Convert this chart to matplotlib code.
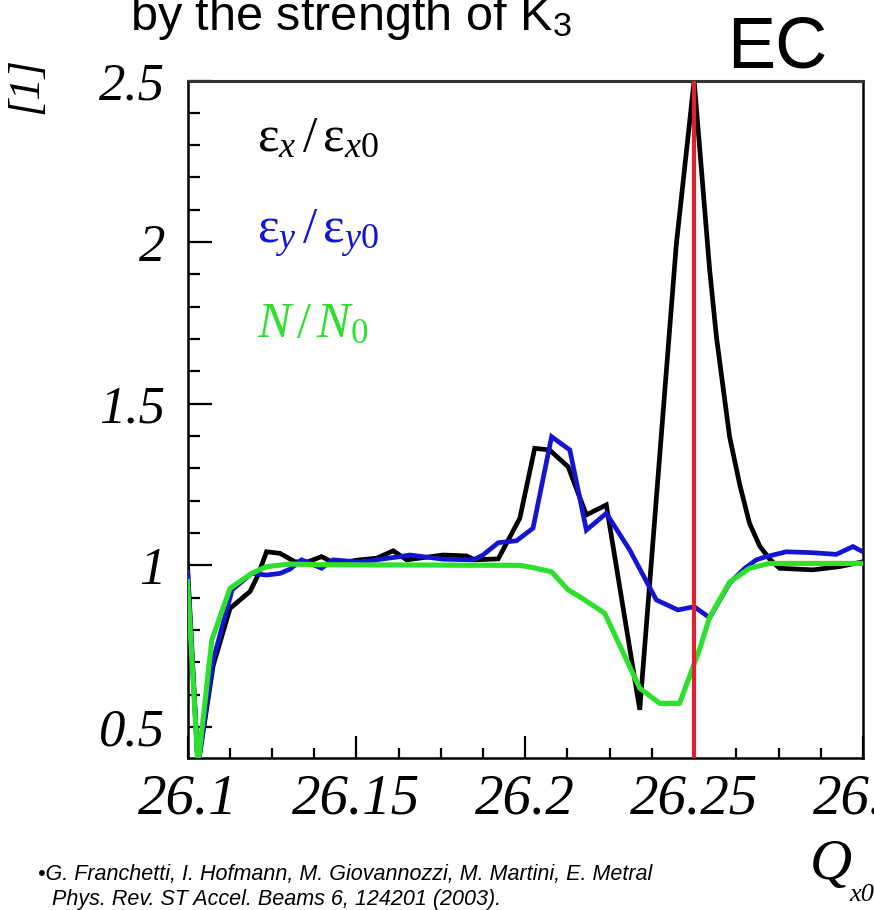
import matplotlib
matplotlib.use("Agg")
import matplotlib.pyplot as plt
from matplotlib.ticker import MultipleLocator, FixedLocator

plt.rcParams['mathtext.fontset'] = 'custom'
plt.rcParams['mathtext.rm'] = 'Liberation Serif'
plt.rcParams['mathtext.it'] = 'Liberation Serif:italic'
plt.rcParams['mathtext.sf'] = 'Liberation Sans'

# ---- data ----
ex_q = [26.1000, 26.1031, 26.1076, 26.1126, 26.1185, 26.1209, 26.1234, 26.1274, 26.1318,
        26.1357, 26.1397, 26.1436, 26.1510, 26.1560, 26.1609, 26.1649, 26.1757, 26.1826,
        26.1851, 26.1920, 26.1984, 26.2028, 26.2072, 26.2127, 26.2181, 26.2240, 26.2339,
        26.2447, 26.2500, 26.2546, 26.2566, 26.2605, 26.2635, 26.2664, 26.2694, 26.2723,
        26.2753, 26.2851, 26.2930, 26.3000]
ex_v = [1.00, 0.38, 0.69, 0.867, 0.919, 0.970, 1.042, 1.037, 1.011,
        1.011, 1.027, 1.006, 1.017, 1.022, 1.045, 1.017, 1.032, 1.029,
        1.017, 1.020, 1.146, 1.362, 1.357, 1.305, 1.156, 1.187, 0.553,
        1.990, 2.50, 1.914, 1.707, 1.398, 1.25, 1.13, 1.06, 1.02,
        0.991, 0.986, 0.996, 1.011]

ey_q = [26.1000, 26.1031, 26.1076, 26.1132, 26.1190, 26.1234, 26.1274, 26.1303, 26.1338,
        26.1397, 26.1431, 26.1510, 26.1629, 26.1658, 26.1757, 26.1846, 26.1875, 26.1920,
        26.1974, 26.2023, 26.2078, 26.2132, 26.2181, 26.2240, 26.2309, 26.2388, 26.2452,
        26.2500, 26.2546, 26.2605, 26.2649, 26.2684, 26.2714, 26.2773, 26.2852, 26.2921,
        26.2970, 26.3000]
ey_v = [0.98, 0.38, 0.707, 0.924, 0.975, 0.970, 0.975, 0.988, 1.017,
        0.991, 1.017, 1.010, 1.027, 1.032, 1.019, 1.017, 1.032, 1.070,
        1.076, 1.115, 1.398, 1.357, 1.109, 1.161, 1.048, 0.893, 0.862,
        0.872, 0.838, 0.945, 0.99, 1.017, 1.027, 1.042, 1.039, 1.034,
        1.058, 1.042]

n_q = [26.1000, 26.1031, 26.1072, 26.1126, 26.1190, 26.1234, 26.1303, 26.1392, 26.1933,
       26.1984, 26.2022, 26.2078, 26.2127, 26.2161, 26.2235, 26.2339, 26.2398, 26.2457,
       26.2516, 26.2546, 26.2605, 26.2664, 26.2723, 26.3000]
n_v = [0.95, 0.38, 0.769, 0.929, 0.975, 0.996, 1.004, 1.002, 1.000,
       1.000, 0.993, 0.980, 0.924, 0.903, 0.852, 0.620, 0.573, 0.573,
       0.74, 0.84, 0.948, 0.991, 1.006, 1.006]

q_res = 26.25
x_ticks = [26.1, 26.15, 26.2, 26.25, 26.3]
x_labels = ['26.1', '26.15', '26.2', '26.25', '26.3']
y_ticks = [0.5, 1, 1.5, 2, 2.5]
y_labels = ['0.5', '1', '1.5', '2', '2.5']

# ---- figure ----
W, H = 874, 910
fig = plt.figure(figsize=(W / 100, H / 100), dpi=100)
ax = fig.add_axes([187.5 / W, 1 - 758.3 / H, (863 - 187.5) / W, (758.3 - 80.5) / H])

ax.plot(ex_q, ex_v, color='black', lw=3.4, zorder=3, solid_joinstyle='miter')
ax.plot(ey_q, ey_v, color='#1414d2', lw=3.4, zorder=4, solid_joinstyle='miter')
ax.plot(n_q, n_v, color='#2ee02e', lw=3.7, zorder=5)
ax.axvline(q_res, color='#e0202a', lw=3.0, zorder=6)

ax.set_xlim(26.1, 26.3)
ax.set_ylim(0.403, 2.5)

ax.xaxis.set_major_locator(FixedLocator(x_ticks))
ax.xaxis.set_minor_locator(MultipleLocator(0.0125))
ax.yaxis.set_major_locator(FixedLocator(y_ticks))
ax.yaxis.set_minor_locator(MultipleLocator(0.1))
ax.set_xticklabels(x_labels)
ax.set_yticklabels(y_labels)

ax.tick_params(which='both', direction='in', top=False, right=False, width=1.6, color='black')
ax.tick_params(axis='x', which='major', length=16, pad=11)
ax.tick_params(axis='x', which='minor', length=7.5)
ax.tick_params(axis='y', which='major', length=17, pad=16)
ax.tick_params(axis='y', which='minor', length=8.5)

for lab in ax.get_xticklabels():
    lab.set_fontfamily('Liberation Serif')
    lab.set_fontstyle('italic')
    lab.set_fontsize(41)
for lab in ax.get_yticklabels():
    lab.set_fontfamily('Liberation Serif')
    lab.set_fontstyle('italic')
    lab.set_fontsize(38)

for s in ax.spines.values():
    s.set_linewidth(1.8)
    s.set_color('black')
ax.spines['top'].set_color('#333333')
ax.spines['top'].set_linewidth(2.2)

# legend-like labels
fig.text(257 / W, 1 - 151 / H, r'$\mathrm{\varepsilon}_{x}\,/\,\mathrm{\varepsilon}_{x0}$',
         color='black', fontsize=37, ha='left', va='baseline')
fig.text(257 / W, 1 - 243 / H, r'$\mathrm{\varepsilon}_{y}\,/\,\mathrm{\varepsilon}_{y0}$',
         color='#1414d2', fontsize=37, ha='left', va='baseline')
fig.text(257 / W, 1 - 337 / H, r'$N\,/\,N_{0}$',
         color='#2ee02e', fontsize=36, ha='left', va='baseline')

# y label
fig.text(26 / W, 1 - 85 / H, '[1]', family='Liberation Serif', style='italic',
         fontsize=32, rotation=90, ha='center', va='center')

# x label
fig.text(810 / W, 1 - 879 / H, 'Q', family='Liberation Serif', style='italic',
         fontsize=42, ha='left', va='baseline')
fig.text(849 / W, 1 - 901 / H, 'x0', family='Liberation Serif', style='italic',
         fontsize=19, ha='left', va='baseline')

# title fragments
fig.text(130 / W, 1 - 30 / H, r'by the strength of K$_{\mathsf{3}}$', family='Liberation Sans',
         fontsize=35, ha='left', va='baseline')
fig.text(727 / W, 1 - 68 / H, 'EC', family='Liberation Sans', fontsize=52,
         ha='left', va='baseline')

# reference
fig.text(38 / W, 1 - 880 / H,
         '\u2022G. Franchetti, I. Hofmann, M. Giovannozzi, M. Martini, E. Metral',
         family='Liberation Sans', style='italic', fontsize=15.5, ha='left', va='baseline')
fig.text(52 / W, 1 - 905 / H, 'Phys. Rev. ST Accel. Beams 6, 124201 (2003).',
         family='Liberation Sans', style='italic', fontsize=15.5, ha='left', va='baseline')

fig.savefig('out.png', dpi=100)
